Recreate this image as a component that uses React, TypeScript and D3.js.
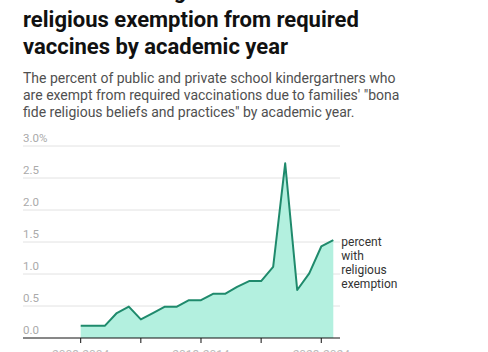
import * as d3 from "d3";
import { useEffect, useRef } from "react";

// academic years, one point per year
const years = [
  "2003-2004", "2004-2005", "2005-2006", "2006-2007", "2007-2008", "2008-2009",
  "2009-2010", "2010-2011", "2011-2012", "2012-2013", "2013-2014", "2014-2015",
  "2015-2016", "2016-2017", "2017-2018", "2018-2019", "2019-2020", "2020-2021",
  "2021-2022", "2022-2023", "2023-2024", "2024-2025",
];
const values = [
  0.19, 0.19, 0.19, 0.39, 0.49, 0.29, 0.39, 0.49, 0.49, 0.59, 0.59, 0.69,
  0.69, 0.8, 0.89, 0.89, 1.11, 2.73, 0.75, 1.01, 1.43, 1.53,
];
const yTicks = [0, 0.5, 1, 1.5, 2, 2.5, 3];
const titleLines = [
  "Share of kindergartners with",
  "religious exemption from required",
  "vaccines by academic year",
];
const subtitleLines = [
  "The percent of public and private school kindergartners who",
  "are exempt from required vaccinations due to families' \"bona",
  "fide religious beliefs and practices\" by academic year.",
];
const seriesLabel = ["percent", "with", "religious", "exemption"];

export default function App() {
  const ref = useRef<SVGSVGElement>(null);

  useEffect(() => {
    if (!ref.current) return;
    const svg = d3.select(ref.current);
    svg.selectAll("*").remove();

    const W = 488;
    const H = 352;
    const font = "Roboto, 'Noto Sans', sans-serif";
    const left = 23;
    const right = 340;
    const mint = "#b3f0df";
    const green = "#1f8a6c";

    svg.attr("width", W).attr("height", H).attr("viewBox", `0 0 ${W} ${H}`);

    // title (first line runs off the top, as in the original crop)
    svg.append("g")
      .selectAll("text")
      .data(titleLines)
      .join("text")
      .attr("x", left)
      .attr("y", (_, i) => (i === 0 ? -2 : 0) + i * 27)
      .attr("font-family", font)
      .attr("font-weight", 700)
      .attr("font-size", 22)
      .attr("fill", "#111")
      .text(d => d);

    // subtitle
    svg.append("g")
      .selectAll("text")
      .data(subtitleLines)
      .join("text")
      .attr("x", left)
      .attr("y", (_, i) => 83 + i * 17)
      .attr("font-family", font)
      .attr("font-size", 14)
      .attr("fill", "#505050")
      .text(d => d);

    const x = d3.scaleLinear().domain([0, years.length - 1]).range([80.7, 333.3]);
    const y = d3.scaleLinear().domain([0, 3]).range([338, 146]);

    const g = svg.append("g");

    // grid lines
    g.append("g")
      .selectAll("line")
      .data(yTicks.filter(t => t > 0))
      .join("line")
      .attr("x1", left)
      .attr("x2", right)
      .attr("y1", d => y(d))
      .attr("y2", d => y(d))
      .attr("stroke", "#e2e2e2")
      .attr("stroke-width", 1);

    // y labels, sitting above their grid line
    g.append("g")
      .selectAll("text")
      .data(yTicks)
      .join("text")
      .attr("x", left)
      .attr("y", d => y(d) - 4.5)
      .attr("font-family", font)
      .attr("font-size", 11.5)
      .attr("fill", "#aaa")
      .text(d => (d === 3 ? "3.0%" : d.toFixed(1)));

    const idx = d3.range(values.length);

    // area
    g.append("path")
      .datum(idx)
      .attr("fill", mint)
      .attr(
        "d",
        d3.area<number>()
          .x(i => x(i))
          .y0(y(0))
          .y1(i => y(values[i]))
      );

    // line
    g.append("path")
      .datum(idx)
      .attr("fill", "none")
      .attr("stroke", green)
      .attr("stroke-width", 2)
      .attr("stroke-linejoin", "round")
      .attr(
        "d",
        d3.line<number>()
          .x(i => x(i))
          .y(i => y(values[i]))
      );

    // x axis
    const ax = g.append("g").attr("transform", `translate(0,${y(0)})`);
    ax.append("line")
      .attr("x1", left)
      .attr("x2", right)
      .attr("stroke", "#111")
      .attr("stroke-width", 1);
    const tickIdx = idx.filter(i => i % 5 === 0);
    ax.selectAll(".tick")
      .data(tickIdx)
      .join("line")
      .attr("class", "tick")
      .attr("x1", d => x(d))
      .attr("x2", d => x(d))
      .attr("y1", 0)
      .attr("y2", 5)
      .attr("stroke", "#111");
    ax.selectAll(".xl")
      .data(idx.filter(i => i % 10 === 0))
      .join("text")
      .attr("class", "xl")
      .attr("x", d => x(d))
      .attr("y", 21)
      .attr("text-anchor", "middle")
      .attr("font-family", font)
      .attr("font-size", 12)
      .attr("fill", "#bbb")
      .text(d => years[d]);

    // series label
    const last = values.length - 1;
    g.append("g")
      .selectAll("text")
      .data(seriesLabel)
      .join("text")
      .attr("x", x(last) + 8)
      .attr("y", (_, i) => 246 + i * 14)
      .attr("font-family", font)
      .attr("font-size", 12)
      .attr("fill", "#333")
      .text(d => d);
  }, []);

  return <svg ref={ref} style={{ position: "absolute", left: 0, top: 0, display: "block" }} />;
}
